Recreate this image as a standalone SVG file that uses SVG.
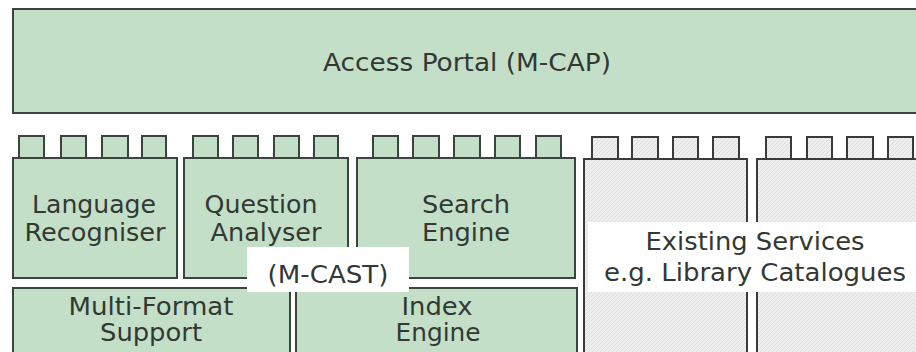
<svg xmlns="http://www.w3.org/2000/svg" width="916" height="352" viewBox="0 0 916 352">
  <defs>
    <!-- fine diagonal texture used for the external service blocks -->
    <pattern id="hatch" width="4" height="4" patternUnits="userSpaceOnUse">
      <rect width="4" height="4" fill="#eeeeee"/>
      <path d="M0 4 L4 0" stroke="#dadada" stroke-width="0.8"/>
    </pattern>
    <style>
      .box { fill: #c4dfc8; stroke: #3a463d; stroke-width: 2; }
      .ext { fill: url(#hatch); stroke: #3a3a3a; stroke-width: 2; }
      .lbl { font-family: "DejaVu Sans", Verdana, sans-serif; font-size: 24px; fill: #333833; text-anchor: middle; }
      .mask { fill: #ffffff; }
    </style>
  </defs>

  <rect width="916" height="352" fill="#ffffff"/>

  <!-- Access portal -->
  <g id="access-portal">
    <rect class="box" x="13" y="9" width="910" height="104"/>
    <text class="lbl" x="467" y="71" textLength="288" lengthAdjust="spacingAndGlyphs">Access Portal (M-CAP)</text>
  </g>

  <!-- Language recogniser -->
  <g id="language-recogniser">
    <rect class="box" x="19" y="136" width="25" height="22"/>
    <rect class="box" x="61" y="136" width="25" height="22"/>
    <rect class="box" x="102" y="136" width="26" height="22"/>
    <rect class="box" x="142" y="136" width="24" height="22"/>
    <rect class="box" x="13" y="158" width="164" height="120"/>
    <text class="lbl" x="94" y="213" textLength="124" lengthAdjust="spacingAndGlyphs">Language</text>
    <text class="lbl" x="95" y="241" textLength="141" lengthAdjust="spacingAndGlyphs">Recogniser</text>
  </g>

  <!-- Question analyser -->
  <g id="question-analyser">
    <rect class="box" x="193" y="136" width="25" height="22"/>
    <rect class="box" x="233" y="136" width="25" height="22"/>
    <rect class="box" x="274" y="136" width="25" height="22"/>
    <rect class="box" x="314" y="136" width="24" height="22"/>
    <rect class="box" x="184" y="158" width="164" height="120"/>
    <text class="lbl" x="261" y="213" textLength="113" lengthAdjust="spacingAndGlyphs">Question</text>
    <text class="lbl" x="266" y="241" textLength="111" lengthAdjust="spacingAndGlyphs">Analyser</text>
  </g>

  <!-- Search engine -->
  <g id="search-engine">
    <rect class="box" x="373" y="136" width="25" height="22"/>
    <rect class="box" x="413" y="136" width="26" height="22"/>
    <rect class="box" x="454" y="136" width="26" height="22"/>
    <rect class="box" x="495" y="136" width="25" height="22"/>
    <rect class="box" x="536" y="136" width="25" height="22"/>
    <rect class="box" x="357" y="158" width="218" height="120"/>
    <text class="lbl" x="466" y="213" textLength="88" lengthAdjust="spacingAndGlyphs">Search</text>
    <text class="lbl" x="466" y="241" textLength="88" lengthAdjust="spacingAndGlyphs">Engine</text>
  </g>

  <!-- Multi-format support -->
  <g id="multi-format-support">
    <rect class="box" x="13" y="288" width="277" height="80"/>
    <text class="lbl" x="151" y="315" textLength="165" lengthAdjust="spacingAndGlyphs">Multi-Format</text>
    <text class="lbl" x="151" y="341" textLength="102" lengthAdjust="spacingAndGlyphs">Support</text>
  </g>

  <!-- Index engine -->
  <g id="index-engine">
    <rect class="box" x="296" y="288" width="281" height="80"/>
    <text class="lbl" x="437" y="315" textLength="71" lengthAdjust="spacingAndGlyphs">Index</text>
    <text class="lbl" x="438" y="341" textLength="85" lengthAdjust="spacingAndGlyphs">Engine</text>
  </g>

  <!-- M-CAST label -->
  <g id="m-cast">
    <rect class="mask" x="247" y="247" width="162" height="45"/>
    <text class="lbl" x="328" y="283" textLength="121" lengthAdjust="spacingAndGlyphs">(M-CAST)</text>
  </g>

  <!-- Existing services (two blocks) -->
  <g id="existing-service-a">
    <rect class="ext" x="592" y="137" width="26" height="22"/>
    <rect class="ext" x="632" y="137" width="26" height="22"/>
    <rect class="ext" x="673" y="137" width="25" height="22"/>
    <rect class="ext" x="713" y="137" width="26" height="22"/>
    <rect class="ext" x="584" y="159" width="163" height="210"/>
  </g>
  <g id="existing-service-b">
    <rect class="ext" x="766" y="137" width="25" height="22"/>
    <rect class="ext" x="807" y="137" width="25" height="22"/>
    <rect class="ext" x="847" y="137" width="26" height="22"/>
    <rect class="ext" x="888" y="137" width="25" height="22"/>
    <rect class="ext" x="757" y="159" width="170" height="210"/>
  </g>
  <g id="existing-services-label">
    <rect class="mask" x="588" y="222" width="330" height="70"/>
    <text class="lbl" x="755" y="250" textLength="219" lengthAdjust="spacingAndGlyphs">Existing Services</text>
    <text class="lbl" x="755" y="281" textLength="302" lengthAdjust="spacingAndGlyphs">e.g. Library Catalogues</text>
  </g>
</svg>
